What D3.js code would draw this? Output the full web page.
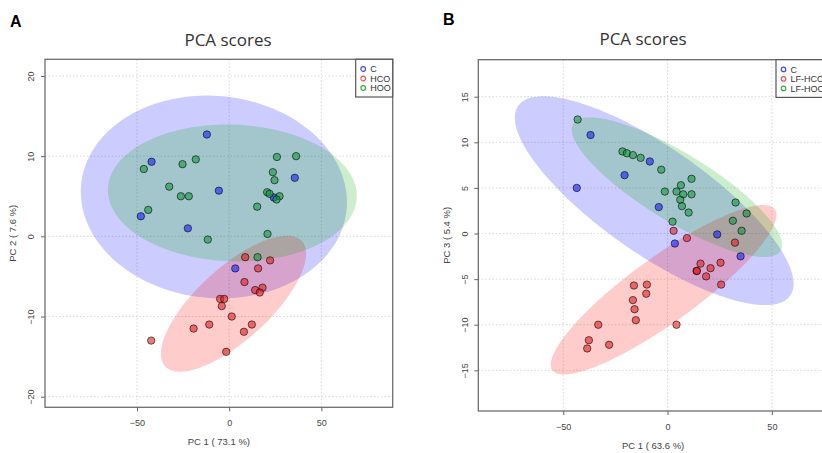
<!DOCTYPE html>
<html>
<head>
<meta charset="utf-8">
<script src="https://cdn.jsdelivr.net/npm/d3@7"></script>
<style>
  html, body { margin: 0; padding: 0; background: #fff; }
  svg { display: block; }
  text { font-family: "Liberation Sans", Arial, sans-serif; }
</style>
</head>
<body>
<svg id="chart" width="822" height="453"></svg>
<script>
// ---- Panel A: PC1 vs PC2 scores ----
const groupsA = ["C", "HCO", "HOO"];
const a_C_pc1   = [-12.1, -42.1, -47.9, -22.4, -5.6, 35.6, 24.2, 3.3];
const a_C_pc2   = [12.7, 9.3, 2.5, 1.0, 5.7, 7.3, 4.85, -4.0];
const a_HCO_pc1 = [8.7, 22.2, 15.7, 8.3, 14.1, 18.1, 16.6, -4.9, -2.7, -4.0, 1.4, 12.3, -10.8, -19.3, 8.0, -1.6, -42.3];
const a_HCO_pc2 = [-2.6, -3.0, -4.0, -5.7, -6.7, -6.4, -7.0, -7.8, -7.8, -8.7, -10.0, -11.0, -11.0, -11.5, -11.9, -14.4, -13.0];
const a_HOO_pc1 = [-46.3, -43.9, -32.5, -25.3, -18.1, -26.2, -21.9, -11.6, 25.9, 36.3, 23.7, 24.6, 20.6, 21.9, 27.3, 25.7, 15.2, 20.8, 15.4];
const a_HOO_pc2 = [8.4, 3.3, 6.2, 9.0, 9.6, 5.0, 5.0, -0.4, 9.9, 10.0, 8.0, 7.0, 5.5, 5.3, 5.0, 4.6, 3.7, 0.3, -2.6];
// 95% confidence ellipses: centre, major and minor semi-axis vectors (score units)
const a_ellipses = [
  { group: "C",   cx: -8.3, cy: 4.91, ux: 72.0, uy: -1.56, vx: -5.15, vy: -12.55 },
  { group: "HCO", cx: 2.35, cy: -8.4, ux: 37.1, uy: 7.80,  vx: 13.2,  vy: -3.33 },
  { group: "HOO", cx: 1.72, cy: 5.41, ux: 67.5, uy: -0.52, vx: -1.23, vy: -8.52 }
];
const a_xTicks = [-50, 0, 50];
const a_yTicks = [-20, -10, 0, 10, 20];

// ---- Panel B: PC1 vs PC3 scores ----
const groupsB = ["C", "LF-HCO", "LF-HOO"];
const b_C_pc1    = [-36.9, -43.5, -20.6, -8.5, -4.2, 3.5, 23.8, 35.0];
const b_C_pc3    = [10.8, 5.0, 6.4, 7.9, 2.9, -1.1, -0.1, -2.5];
const b_LFHCO_pc1 = [2.9, 9.3, 32.3, 15.8, 20.6, 25.4, 13.9, 14.1, 18.5, 25.7, -16.1, -9.9, -10.2, -16.6, -15.8, -15.2, -33.2, 4.3, -37.7, -38.5, -28.0];
const b_LFHCO_pc3 = [0.3, -0.5, -1.0, -3.3, -3.8, -3.2, -4.1, -4.1, -4.7, -5.6, -5.7, -5.6, -6.6, -7.3, -8.3, -9.5, -10.0, -10.0, -11.7, -12.6, -12.2];
const b_LFHOO_pc1 = [-43.1, -21.6, -19.5, -16.6, -12.9, -3.0, -1.3, 11.5, 6.4, 4.3, 7.5, 11.5, 6.1, 6.9, 10.1, 2.4, 32.6, 37.9, 31.3, 35.5];
const b_LFHOO_pc3 = [12.5, 9.0, 8.8, 8.6, 8.3, 7.0, 4.6, 6.0, 5.3, 4.6, 4.3, 4.3, 3.7, 3.0, 2.3, 1.3, 3.4, 2.2, 1.4, 0.3];
const b_ellipses = [
  { group: "C",      cx: -6.4, cy: 3.6,   ux: 65.2, uy: -10.4, vx: -14.6, vy: -4.79 },
  { group: "LF-HCO", cx: -1.9, cy: -6.17, ux: 53.3, uy: 8.82,  vx: 9.23,  vy: -2.92 },
  { group: "LF-HOO", cx: 4.5,  cy: 5.08,  ux: 49.7, uy: -6.96, vx: -8.5,  vy: -3.18 }
];
const b_xTicks = [-50, 0, 50];
const b_yTicks = [-15, -10, -5, 0, 5, 10, 15];

// ---- styling per group position (C, diet 1, diet 2) ----
const ellipseFill = ["rgba(0,0,255,0.2)", "rgba(255,0,0,0.2)", "rgba(0,170,0,0.2)"];
const pointFill   = ["rgba(25,35,250,0.62)", "rgba(225,30,30,0.6)", "rgba(20,150,60,0.6)"];
const legendStroke = ["#4a4ae6", "#e65a5a", "#3caa3c"];

const zip = (xs, ys) => xs.map((x, i) => ({ x, y: ys[i] }));

const panels = [
  {
    letter: "A", letterX: 10, letterY: 27,
    titleX: 228, titleY: 46,
    box: { left: 45, right: 392.7, top: 59.3, bottom: 407.3 },
    xDomain: [-99.9, 88.7], yDomain: [-21.32, 22.08],
    xTicks: a_xTicks, yTicks: a_yTicks,
    xLabel: "PC 1 ( 73.1 %)", yLabel: "PC 2 ( 7.6 %)",
    xTickY: 18.5, xLabelY: 445, yTickDX: 11, yLabelX: 16,
    groups: groupsA, ellipses: a_ellipses,
    points: [zip(a_C_pc1, a_C_pc2), zip(a_HCO_pc1, a_HCO_pc2), zip(a_HOO_pc1, a_HOO_pc2)],
    legendWidth: 37
  },
  {
    letter: "B", letterX: 443, letterY: 25,
    titleX: 643, titleY: 45,
    box: { left: 478.3, right: 828, top: 59.7, bottom: 411 },
    xDomain: [-90.7, 76.9], yDomain: [-19.46, 19.06],
    xTicks: b_xTicks, yTicks: b_yTicks,
    xLabel: "PC 1 ( 63.6 %)", yLabel: "PC 3 ( 5.4 %)",
    xTickY: 19, xLabelY: 449, yTickDX: 10.5, yLabelX: 450,
    groups: groupsB, ellipses: b_ellipses,
    points: [zip(b_C_pc1, b_C_pc3), zip(b_LFHCO_pc1, b_LFHCO_pc3), zip(b_LFHOO_pc1, b_LFHOO_pc3)],
    legendWidth: 52
  }
];

const svg = d3.select("#chart");

panels.forEach((p, pi) => {
  const b = p.box;
  const x = d3.scaleLinear().domain(p.xDomain).range([b.left, b.right]);
  const y = d3.scaleLinear().domain(p.yDomain).range([b.bottom, b.top]);
  const g = svg.append("g");
  const clipId = "clip" + pi;
  svg.append("clipPath").attr("id", clipId)
    .append("rect").attr("x", b.left).attr("y", b.top)
    .attr("width", b.right - b.left).attr("height", b.bottom - b.top);

  // panel letter and title
  g.append("text").attr("x", p.letterX).attr("y", p.letterY)
    .attr("font-size", 16).attr("font-weight", "bold").attr("fill", "#000").text(p.letter);
  g.append("text").attr("x", p.titleX).attr("y", p.titleY)
    .attr("text-anchor", "middle").attr("font-size", 17)
    .style("font-family", "'Open Sans', 'Noto Sans', sans-serif")
    .attr("fill", "#333").text("PCA scores");

  // dotted grid
  const grid = g.append("g").attr("clip-path", `url(#${clipId})`);
  grid.selectAll("line.gx").data(p.xTicks).join("line")
    .attr("x1", d => x(d)).attr("x2", d => x(d)).attr("y1", b.top).attr("y2", b.bottom)
    .attr("stroke", "#cfcfcf").attr("stroke-width", 0.8).attr("stroke-dasharray", "1.5,2");
  grid.selectAll("line.gy").data(p.yTicks).join("line")
    .attr("y1", d => y(d)).attr("y2", d => y(d)).attr("x1", b.left).attr("x2", b.right)
    .attr("stroke", "#cfcfcf").attr("stroke-width", 0.8).attr("stroke-dasharray", "1.5,2");

  // confidence ellipses
  const line = d3.line().x(d => x(d[0])).y(d => y(d[1])).curve(d3.curveLinearClosed);
  const ellG = g.append("g").attr("clip-path", `url(#${clipId})`);
  p.ellipses.forEach((e, i) => {
    const pts = d3.range(0, 360, 2).map(deg => {
      const t = deg * Math.PI / 180;
      return [e.cx + Math.cos(t) * e.ux + Math.sin(t) * e.vx,
              e.cy + Math.cos(t) * e.uy + Math.sin(t) * e.vy];
    });
    ellG.append("path").attr("d", line(pts)).attr("fill", ellipseFill[i]).attr("stroke", "none");
  });

  // score points
  const ptG = g.append("g").attr("clip-path", `url(#${clipId})`);
  p.points.forEach((arr, i) => {
    ptG.selectAll(null).data(arr).join("circle")
      .attr("cx", d => x(d.x)).attr("cy", d => y(d.y)).attr("r", 3.7)
      .attr("fill", pointFill[i]).attr("stroke", "rgba(0,0,0,0.72)").attr("stroke-width", 0.8);
  });

  // axes
  const xAxis = g.append("g").attr("transform", `translate(0,${b.bottom})`)
    .call(d3.axisBottom(x).tickValues(p.xTicks).tickSize(4).tickPadding(3).tickFormat(d3.format("d")));
  xAxis.select(".domain").remove();
  xAxis.selectAll("line").attr("stroke", "#666");
  xAxis.selectAll("text").attr("font-size", 9).attr("fill", "#444")
    .attr("y", p.xTickY).attr("dy", 0)
    .style("font-family", "'Liberation Sans Narrow', 'Liberation Sans', Arial, sans-serif");

  const yAxis = g.append("g").attr("transform", `translate(${b.left},0)`)
    .call(d3.axisLeft(y).tickValues(p.yTicks).tickSize(4).tickFormat(d3.format("d")));
  yAxis.select(".domain").remove();
  yAxis.selectAll("line").attr("stroke", "#666");
  yAxis.selectAll("text").attr("font-size", 9).attr("fill", "#444")
    .attr("text-anchor", "middle").attr("x", 0).attr("y", -p.yTickDX).attr("dy", 0)
    .attr("transform", "rotate(-90)")
    .style("font-family", "'Liberation Sans Narrow', 'Liberation Sans', Arial, sans-serif");

  // frame
  g.append("rect").attr("x", b.left).attr("y", b.top)
    .attr("width", b.right - b.left).attr("height", b.bottom - b.top)
    .attr("fill", "none").attr("stroke", "#6e6e6e").attr("stroke-width", 1.3);

  // axis titles
  g.append("text").attr("x", (b.left + b.right) / 2).attr("y", p.xLabelY)
    .attr("text-anchor", "middle").attr("font-size", 9.5).attr("fill", "#444").text(p.xLabel);
  g.append("text")
    .attr("transform", `translate(${p.yLabelX},${(b.top + b.bottom) / 2}) rotate(-90)`)
    .attr("text-anchor", "middle").attr("font-size", 9.5).attr("fill", "#444").text(p.yLabel);

  // legend
  const lg = g.append("g").attr("transform", `translate(${b.right - p.legendWidth},${b.top})`);
  lg.append("rect").attr("width", p.legendWidth).attr("height", 37.7)
    .attr("fill", "#fff").attr("stroke", "#555").attr("stroke-width", 1.2);
  p.groups.forEach((name, i) => {
    const cy = 9.7 + i * 9.5;
    lg.append("circle").attr("cx", 7.5).attr("cy", cy).attr("r", 2.3)
      .attr("fill", "none").attr("stroke", legendStroke[i]).attr("stroke-width", 1.2);
    lg.append("text").attr("x", 14.5).attr("y", cy + 3.3)
      .attr("font-size", 9).attr("fill", "#333").text(name);
  });
});
</script>
</body>
</html>
